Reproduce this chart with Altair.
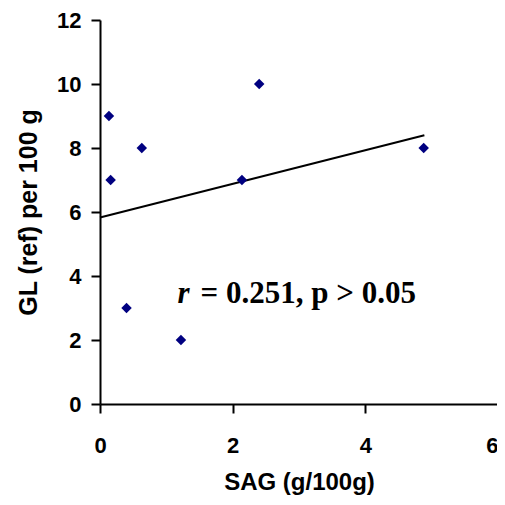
import altair as alt
import pandas as pd

# scatter data
sag = [0.135, 0.16, 0.63, 0.40, 1.22, 2.14, 2.40, 4.88]
gl = [9, 7, 8, 3, 2, 7, 10, 8]

# trend line endpoints
trend_x = [0.0, 4.89]
trend_y = [5.83, 8.40]

# annotation
ann_x = [1.17]
ann_y = [3.16]
ann_r = ["r"]
ann_rest = ["= 0.251, p > 0.05"]

x_ticks = [0, 2, 4, 6]
y_ticks = [0, 2, 4, 6, 8, 10, 12]

pts = pd.DataFrame({"x": sag, "y": gl})
trend = pd.DataFrame({"x": trend_x, "y": trend_y})
ann = pd.DataFrame({"x": ann_x, "y": ann_y, "r": ann_r, "rest": ann_rest})

xs = alt.Scale(domain=[0, 6], nice=False, zero=False)
ys = alt.Scale(domain=[0, 12], nice=False, zero=False)

xax = alt.Axis(values=x_ticks, title="SAG (g/100g)", labelPadding=22, titlePadding=14,
               titleFontSize=24, format="d",
               labelAlign=alt.ExprRef("datum.value == 6 ? 'right' : 'center'"),
               labelOffset=alt.ExprRef("datum.value == 6 ? 0 : 0"))
yax = alt.Axis(values=y_ticks, title="GL (ref) per 100 g", labelPadding=10, titlePadding=15, format="d")

points = alt.Chart(pts).mark_point(
    shape="diamond", filled=True, color="#000080", size=110, opacity=1
).encode(
    x=alt.X("x:Q", scale=xs, axis=xax),
    y=alt.Y("y:Q", scale=ys, axis=yax),
)

line = alt.Chart(trend).mark_line(color="black", strokeWidth=2).encode(
    x=alt.X("x:Q", scale=xs),
    y=alt.Y("y:Q", scale=ys),
)

txt_r = alt.Chart(ann).mark_text(
    font="Liberation Serif", fontSize=31, fontWeight="bold", fontStyle="italic",
    align="left", baseline="alphabetic", color="black"
).encode(x=alt.X("x:Q", scale=xs), y=alt.Y("y:Q", scale=ys), text="r:N")

txt_rest = alt.Chart(ann).mark_text(
    font="Liberation Serif", fontSize=31, fontWeight="bold",
    align="left", baseline="alphabetic", color="black", dx=23
).encode(x=alt.X("x:Q", scale=xs), y=alt.Y("y:Q", scale=ys), text="rest:N")

chart = alt.layer(line, points, txt_r, txt_rest).properties(
    width=398, height=384,
    autosize=alt.AutoSizeParams(type="none"),
    padding={"left": 92, "top": 12, "right": -1, "bottom": 93},
    background="white",
).configure_view(stroke=None).configure_axis(
    grid=False,
    domainColor="black", domainWidth=2,
    tickColor="black", tickWidth=2, tickSize=9,
    labelFont="Liberation Sans", labelFontSize=22, labelFontWeight="bold", labelColor="black",
    titleFont="Liberation Sans", titleFontSize=25, titleFontWeight="bold", titleColor="black",
    labelFlush=False, labelOverlap=False,
)

chart.save("out.html", embed_options={"renderer": "svg", "actions": False})
